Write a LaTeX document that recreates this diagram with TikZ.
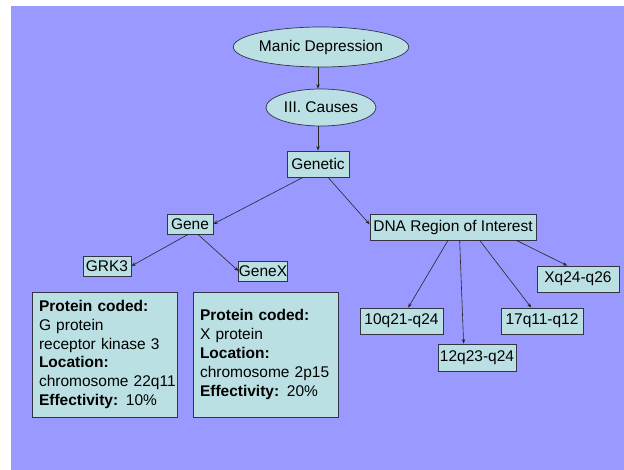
\documentclass[tikz,border=0pt]{standalone}
\usepackage{fontspec}
\setmainfont{Liberation Sans}
\usetikzlibrary{shapes.geometric,arrows.meta,calc}
\definecolor{bgpurple}{HTML}{9999FF}
\definecolor{boxcyan}{HTML}{BBE0E3}
\definecolor{edgegray}{HTML}{333344}
\begin{document}
\begin{tikzpicture}[x=1pt,y=-1pt,
  every node/.style={font=\fontsize{15.5}{18.8}\selectfont},
  oval/.style={ellipse,draw=edgegray,line width=0.7pt,fill=boxcyan,inner sep=0pt},
  rbox/.style={rectangle,draw=edgegray,line width=0.8pt,fill=boxcyan,inner sep=0pt},
  infobox/.style={rectangle,draw=edgegray,line width=0.8pt,fill=boxcyan,inner xsep=7pt,inner ysep=0pt,
    align=left,minimum width=145pt,minimum height=125pt},
  conn/.style={draw=black!85,line width=0.6pt,-{Stealth[length=4.5pt,width=3.5pt]}}]
\useasboundingbox (0,0) rectangle (624,470);
\fill[white] (0,0) rectangle (624,470);
\fill[bgpurple] (11,6) rectangle (624,470);

\node[oval,minimum width=162pt,minimum height=40pt] (manic) at (321,47) {Manic Depression};
\node[oval,minimum width=110pt,minimum height=37pt] (causes) at (321,107.5) {III. Causes};
\node[rbox,minimum width=62pt,minimum height=26pt] (genetic) at (318,164) {Genetic};
\node[rbox,minimum width=46pt,minimum height=20pt] (gene) at (190,224) {Gene};
\node[rbox,minimum width=166pt,minimum height=26pt] (dna) at (453,227) {DNA Region of Interest};
\node[rbox,minimum width=48pt,minimum height=20pt] (grk) at (107,266) {GRK3};
\node[rbox,minimum width=48pt,minimum height=20pt] (genex) at (263,271) {GeneX};
\node[rbox,minimum width=82pt,minimum height=26pt] (xq) at (578,279) {Xq24-q26};
\node[rbox,minimum width=83pt,minimum height=26pt] (q10) at (401.5,321) {10q21-q24};
\node[rbox,minimum width=82pt,minimum height=26pt] (q17) at (542,321) {17q11-q12};
\node[rbox,minimum width=78pt,minimum height=27pt] (q12) at (477,357.5) {12q23-q24};

\node[infobox,text width=131pt] (info1) at (104.5,354.5) {\textbf{Protein coded:}\\G protein\\receptor kinase 3\\\textbf{Location:}\\chromosome~22q11\\\textbf{Effectivity:} 10\%};
\node[infobox,text width=131pt] (info2) at (265.5,354.5) {\textbf{Protein coded:}\\X protein\\\textbf{Location:}\\chromosome~2p15\\\textbf{Effectivity:} 20\%};

\draw[conn] (manic.south -| genetic.south) -- (causes.north -| genetic.south);
\draw[conn] (causes.south -| genetic.south) -- (genetic.north);
\draw[conn] ($(genetic.south west)!0.26!(genetic.south east)$) -- (gene.east);
\draw[conn] ($(genetic.south west)!0.66!(genetic.south east)$) -- ($(dna.north west)!0.4!(dna.south west)$);
\draw[conn] ($(gene.south west)!0.46!(gene.south east)$) -- (grk.east);
\draw[conn] ($(gene.south west)!0.67!(gene.south east)$) -- (genex.west);
\draw[conn] ($(dna.south west)!0.47!(dna.south east)$) -- ($(q10.north west)!0.58!(q10.north east)$);
\draw[conn] ($(dna.south west)!0.54!(dna.south east)$) -- ($(q12.north west)!0.33!(q12.north east)$);
\draw[conn] ($(dna.south west)!0.66!(dna.south east)$) -- ($(q17.north west)!0.37!(q17.north east)$);
\draw[conn] ($(dna.south west)!0.88!(dna.south east)$) -- ($(xq.north west)!0.37!(xq.north east)$);
\end{tikzpicture}
\end{document}
